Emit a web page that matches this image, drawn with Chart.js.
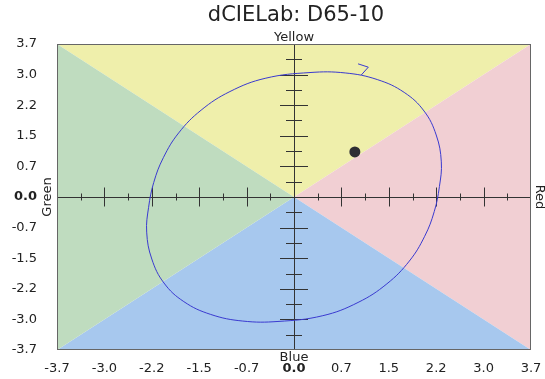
<!DOCTYPE html>
<html>
<head>
<meta charset="utf-8">
<script src="https://cdn.jsdelivr.net/npm/chart.js@4.4.1/dist/chart.umd.min.js"></script>
<style>
html,body{margin:0;padding:0;background:#fff;}
#wrap{width:545px;height:379px;position:relative;}
</style>
</head>
<body>
<div id="wrap"><canvas id="c" width="545" height="379"></canvas></div>
<script>
// ---- data ----
const TITLE = 'dCIELab: D65-10';
const TICK_VALUES = [-3.7, -2.96, -2.22, -1.48, -0.74, 0, 0.74, 1.48, 2.22, 2.96, 3.7];
const TICK_LABELS = ['-3.7', '-3.0', '-2.2', '-1.5', '-0.7', '0.0', '0.7', '1.5', '2.2', '3.0', '3.7'];
const MINOR_VALUES = [-3.33, -2.59, -1.85, -1.11, -0.37, 0.37, 1.11, 1.85, 2.59, 3.33];
const AXIS_NAMES = { top: 'Yellow', bottom: 'Blue', left: 'Green', right: 'Red' };

// tolerance contour: da (x) / db (y), closed loop
const ELLIPSE_X = [-0.45, 0.25, 0.80, 1.30, 1.72, 2.03, 2.22, 2.30, 2.27, 2.19, 2.04, 1.80, 1.45, 1.00, 0.45, -0.25, -0.80, -1.30, -1.72, -2.03, -2.22, -2.30, -2.27, -2.19, -2.04, -1.80, -1.45, -1.00];
const ELLIPSE_Y = [2.87, 3.01, 3.00, 2.84, 2.53, 2.08, 1.50, 0.85, 0.25, -0.35, -0.95, -1.55, -2.10, -2.55, -2.87, -3.01, -3.00, -2.84, -2.53, -2.08, -1.50, -0.85, -0.25, 0.35, 0.95, 1.55, 2.10, 2.55];
// arrow head on contour
const ARROW_X = [1.00, 1.16, 1.05];
const ARROW_Y = [3.22, 3.14, 2.95];
// sample point
const SAMPLE_X = [0.95];
const SAMPLE_Y = [1.09];

const zip = (xs, ys) => xs.map((x, i) => ({ x: x, y: ys[i] }));

const FONT = '"DejaVu Sans", "Liberation Sans", sans-serif';

const quadPlugin = {
  id: 'quadrants',
  afterDatasetsUpdate(chart) {
    // close the contour as a smooth loop (same mechanism Chart.js uses for radar)
    try {
      const line = chart.getDatasetMeta(0).dataset;
      line._loop = true;
      line._fullLoop = true;
      delete line._segments;
      line._path = undefined;
      line._pointsUpdated = false;
      line.updateControlPoints(chart.chartArea, 'x');
    } catch (e) {}
  },
  beforeDraw(chart) {
    const { ctx, chartArea: a } = chart;
    const cx = chart.scales.x.getPixelForValue(0);
    const cy = chart.scales.y.getPixelForValue(0);
    const tri = (p, col) => {
      ctx.beginPath();
      ctx.moveTo(p[0][0], p[0][1]);
      ctx.lineTo(p[1][0], p[1][1]);
      ctx.lineTo(p[2][0], p[2][1]);
      ctx.closePath();
      ctx.fillStyle = col;
      ctx.fill();
    };
    ctx.save();
    tri([[a.left, a.top], [a.right, a.top], [cx, cy]], '#EFEFAB');
    tri([[a.right, a.top], [a.right, a.bottom], [cx, cy]], '#F1CFD3');
    tri([[a.left, a.bottom], [a.right, a.bottom], [cx, cy]], '#A7C8EE');
    tri([[a.left, a.top], [a.left, a.bottom], [cx, cy]], '#BFDCBF');
    ctx.restore();
  },
  beforeDatasetsDraw(chart) {
    const { ctx, chartArea: a } = chart;
    const xs = chart.scales.x, ys = chart.scales.y;
    const cx = xs.getPixelForValue(0);
    const cy = ys.getPixelForValue(0);
    ctx.save();
    ctx.strokeStyle = '#333';
    ctx.lineWidth = 1;
    ctx.beginPath();
    const hline = (v, h) => { const px = Math.round(xs.getPixelForValue(v)) + 0.5; ctx.moveTo(px, cy - h); ctx.lineTo(px, cy + h); };
    const vline = (v, h) => { const py = Math.round(ys.getPixelForValue(v)) + 0.5; ctx.moveTo(cx - h, py); ctx.lineTo(cx + h, py); };
    TICK_VALUES.forEach(v => { if (Math.abs(v) > 1e-9 && Math.abs(v) < 3.6) { hline(v, 9.5); vline(v, 14); } });
    MINOR_VALUES.forEach(v => { hline(v, 3.5); vline(v, 8); });
    ctx.stroke();
    // plot frame
    ctx.strokeStyle = '#666';
    ctx.strokeRect(Math.round(a.left) + 0.5, Math.round(a.top) + 0.5, Math.round(a.right - a.left) - 1, Math.round(a.bottom - a.top) - 1);
    ctx.restore();
  },
  afterDraw(chart) {
    const { ctx, chartArea: a } = chart;
    const cx = chart.scales.x.getPixelForValue(0);
    const cy = chart.scales.y.getPixelForValue(0);
    ctx.save();
    ctx.fillStyle = '#222';
    ctx.textAlign = 'center';
    ctx.textBaseline = 'middle';
    // title
    ctx.font = '21px ' + FONT;
    ctx.fillText(TITLE, cx + 2, 16);
    // axis direction names
    ctx.font = '13px ' + FONT;
    ctx.fillText(AXIS_NAMES.top, cx, a.top - 6);
    ctx.fillText(AXIS_NAMES.bottom, cx, a.bottom + 8);
    ctx.save();
    ctx.translate(a.left - 9, cy);
    ctx.rotate(-Math.PI / 2);
    ctx.fillText(AXIS_NAMES.left, 0, 0);
    ctx.restore();
    ctx.save();
    ctx.translate(a.right + 8, cy);
    ctx.rotate(Math.PI / 2);
    ctx.fillText(AXIS_NAMES.right, 0, 0);
    ctx.restore();
    ctx.restore();
  }
};

const isZero = v => Math.abs(v) < 1e-9;
const tickFont = ctx => ({ family: FONT, size: 13, weight: (ctx.tick && isZero(ctx.tick.value)) ? 'bold' : 'normal' });

const axisCommon = {
  type: 'linear',
  min: -3.7,
  max: 3.7,
  afterBuildTicks: s => { s.ticks = TICK_VALUES.map(v => ({ value: v })); },
  grid: {
    drawTicks: false,
    color: ctx => (ctx.tick && isZero(ctx.tick.value)) ? '#333' : 'rgba(0,0,0,0)',
    lineWidth: 1
  },
  border: { display: false },
  ticks: {
    color: '#222',
    font: tickFont,
    autoSkip: false,
    maxRotation: 0,
    callback: (v, i) => TICK_LABELS[i]
  }
};

new Chart(document.getElementById('c'), {
  type: 'scatter',
  data: {
    datasets: [
      { data: zip(ELLIPSE_X, ELLIPSE_Y), showLine: true, spanGaps: true, borderColor: '#3a3ad0', borderWidth: 1, pointRadius: 0, tension: 0.4, fill: false },
      { data: zip(ARROW_X, ARROW_Y), showLine: true, borderColor: '#3a3ad0', borderWidth: 1, pointRadius: 0, tension: 0, fill: false },
      { data: zip(SAMPLE_X, SAMPLE_Y), pointRadius: 5.5, pointStyle: 'circle', backgroundColor: '#2e2e33', borderColor: '#2e2e33', borderWidth: 0 }
    ]
  },
  options: {
    responsive: false,
    animation: false,
    layout: { padding: { left: 0, right: 14, top: 44, bottom: 0 } },
    plugins: {
      legend: { display: false },
      tooltip: { enabled: false },
      title: { display: false }
    },
    scales: {
      x: Object.assign({}, axisCommon, {
        position: 'bottom',
        afterFit: s => { s.height = 29; s.paddingLeft = 0; s.paddingRight = 0; },
        ticks: Object.assign({}, axisCommon.ticks, { padding: 11 })
      }),
      y: Object.assign({}, axisCommon, {
        position: 'left',
        afterFit: s => { s.width = 57; s.paddingTop = 0; s.paddingBottom = 0; },
        ticks: Object.assign({}, axisCommon.ticks, { padding: 20 })
      })
    }
  },
  plugins: [quadPlugin]
});
</script>
</body>
</html>
